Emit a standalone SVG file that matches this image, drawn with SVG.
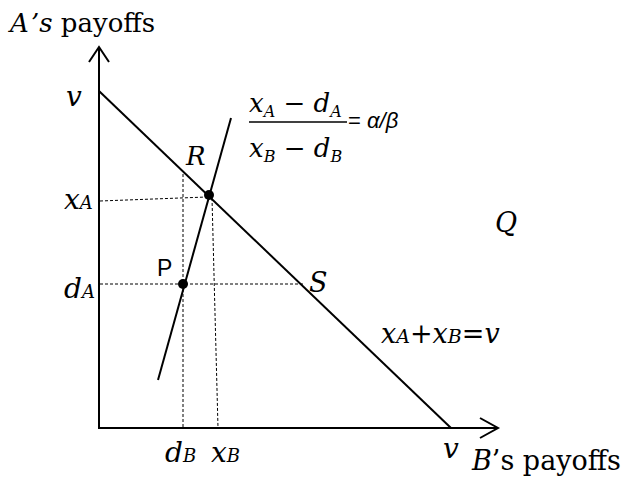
<svg xmlns="http://www.w3.org/2000/svg" width="621" height="479" viewBox="0 0 621 479">
<style>
.it{font-style:italic}
.ser{font-family:'DejaVu Serif','Liberation Serif',serif}
.ln{stroke:#000;stroke-width:2;fill:none}
.dash{stroke:#000;stroke-width:1;stroke-dasharray:3 2;fill:none}
.dot{fill:#000}
text{fill:#000}
</style>
<rect width="621" height="479" fill="#fff"/>
<g id="connectors">
<line class="ln" x1="99" y1="429" x2="99" y2="47"/>
<polyline class="ln" points="89,62 99,47 109,62"/>
<line class="ln" x1="98" y1="428" x2="498" y2="428"/>
<polyline class="ln" points="480,418 498,428 480,438"/>
<line class="ln" x1="99" y1="91" x2="451" y2="428"/>
<line class="ln" x1="158" y1="380" x2="231" y2="118"/>
<line class="dash" x1="100" y1="201" x2="207" y2="197"/>
<line class="dash" x1="100" y1="284" x2="305" y2="284"/>
<line class="dash" x1="183" y1="174" x2="183" y2="428"/>
<line class="dash" x1="212" y1="198" x2="218" y2="428"/>
</g>
<g id="node-R">
<circle class="dot" cx="209" cy="195" r="5"/>
<text class="ser it" x="186" y="165" font-size="26">R</text>
</g>
<g id="node-P">
<circle class="dot" cx="183" cy="284" r="5"/>
<text font-family="Liberation Sans, sans-serif" x="157" y="276" font-size="23">P</text>
</g>
<g id="node-S">
<text class="ser it" x="309" y="292" font-size="27">S</text>
</g>
<g id="node-Q">
<text class="ser it" x="495" y="232" font-size="27">Q</text>
</g>
<g id="axis-labels" class="ser">
<text x="10" y="32" font-size="26"><tspan class="it">A</tspan><tspan class="it" dx="6">’s</tspan> payoffs</text>
<text x="472" y="470" font-size="27"><tspan class="it">B</tspan>’s payoffs</text>
<text class="it" x="66" y="106" font-size="28">v</text>
<text class="it" x="443" y="458" font-size="28">v</text>
<text class="it" x="64" y="209" font-size="28">x<tspan font-size="18">A</tspan></text>
<text class="it" x="64" y="298" font-size="28">d<tspan font-size="18">A</tspan></text>
<text class="it" x="165" y="462" font-size="28">d<tspan font-size="18">B</tspan></text>
<text class="it" x="211" y="462" font-size="28">x<tspan font-size="18">B</tspan></text>
<text class="it" x="381" y="343" font-size="27">x<tspan font-size="19">A</tspan><tspan font-style="normal">+</tspan>x<tspan font-size="19">B</tspan><tspan font-style="normal">=</tspan>v</text>
</g>
<g id="ratio-label">
<text class="ser it" x="249" y="112" font-size="26">x<tspan font-size="16" dy="5">A</tspan><tspan font-style="normal" dy="-5"> − </tspan>d<tspan font-size="16" dy="5">A</tspan></text>
<line stroke="#000" stroke-width="1.5" x1="249" y1="122" x2="347" y2="122"/>
<text class="ser it" x="249" y="157" font-size="26">x<tspan font-size="16" dy="5">B</tspan><tspan font-style="normal" dy="-5"> − </tspan>d<tspan font-size="16" dy="5">B</tspan></text>
<text font-family="Liberation Sans, sans-serif" x="348" y="128" font-size="22">= <tspan font-style="italic">α/β</tspan></text>
</g>
</svg>
